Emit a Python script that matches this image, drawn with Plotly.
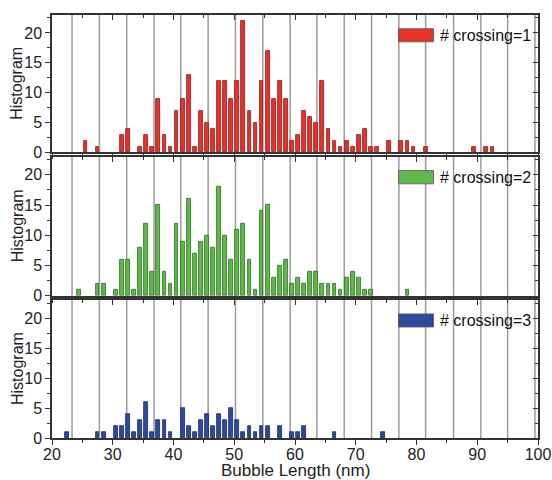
import plotly.graph_objects as go

# ---- data ----
x1 = [25.5, 27.5, 31.5, 32.5, 34.5, 35.5, 36.5, 37.5, 38.5, 39.5, 40.5, 41.5, 42.5, 43.5,
      44.5, 45.5, 46.5, 47.5, 48.5, 49.5, 50.5, 51.5, 52.5, 53.5, 54.5, 55.5, 56.5, 57.5,
      58.5, 59.5, 60.5, 61.5, 62.5, 63.5, 64.5, 65.5, 66.5, 67.5, 68.5, 69.5, 70.5, 71.5,
      72.5, 73.5, 75.5, 77.5, 78.5, 79.5, 81.5, 89.5, 91.5, 92.5]
y1 = [2, 1, 3, 4, 1, 3, 1, 9, 3, 1, 7, 9, 13, 1,
      7, 5, 4, 12, 12, 9, 12, 22, 7, 5, 12, 17, 9, 12,
      9, 2, 3, 7, 6, 5, 12, 4, 2, 1, 2, 1, 3, 4,
      1, 1, 2, 2, 2, 1, 1, 1, 1, 1]

x2 = [24.5, 27.5, 28.5, 30.5, 31.5, 32.5, 33.5, 34.5, 35.5, 36.5, 37.5, 38.5, 39.5, 40.5,
      41.5, 42.5, 43.5, 44.5, 45.5, 46.5, 47.5, 48.5, 49.5, 50.5, 51.5, 52.5, 53.5, 54.5,
      55.5, 56.5, 57.5, 58.5, 59.5, 60.5, 61.5, 62.5, 63.5, 64.5, 65.5, 66.5, 67.5, 68.5,
      69.5, 70.5, 71.5, 72.5, 78.5]
y2 = [1, 2, 2, 1, 6, 6, 1, 8, 12, 4, 15, 4, 2, 12,
      9, 16, 7, 9, 10, 8, 18, 10, 6, 11, 12, 6, 1, 14,
      15, 3, 5, 6, 2, 3, 2, 4, 4, 2, 2, 2, 1, 3,
      4, 3, 1, 1, 1]

x3 = [22.5, 27.5, 28.5, 30.5, 31.5, 32.5, 33.5, 34.5, 35.5, 36.5, 37.5, 38.5, 39.5, 41.5,
      42.5, 43.5, 44.5, 45.5, 46.5, 47.5, 48.5, 49.5, 50.5, 51.5, 52.5, 53.5, 54.5, 55.5,
      57.5, 59.5, 60.5, 61.5, 66.5, 74.5]
y3 = [1, 1, 1, 2, 2, 4, 1, 3, 6, 1, 3, 3, 1, 5,
      2, 1, 3, 4, 2, 4, 3, 5, 3, 1, 2, 1, 2, 2,
      2, 1, 1, 2, 1, 1]

gray_lines = [23.3, 27.8, 32.3, 36.8, 41.2, 45.7, 50.2, 54.7, 59.2, 63.6, 68.1, 72.6,
              77.1, 81.5, 86.1, 90.6, 95.0, 99.5]

labels = ["# crossing=1", "# crossing=2", "# crossing=3"]
fills = ["#e8312b", "#5dba48", "#2d4a9f"]
edges = ["#8c1c16", "#2f6b25", "#17295e"]

x_range = [20, 100]
y_range = [0, 23]
x_title = "Bubble Length (nm)"
y_title = "Histogram"

FONT = "Liberation Sans, Arial, sans-serif"
AX = "#333333"

domains = [[0.675, 1.0], [0.336, 0.665], [0.0, 0.326]]
series = [(x1, y1), (x2, y2), (x3, y3)]

fig = go.Figure()
layout = dict(
    width=552, height=480,
    margin=dict(l=52, r=14, t=15, b=42, autoexpand=False),
    paper_bgcolor="white", plot_bgcolor="white",
    showlegend=False,
    font=dict(family=FONT, size=14, color="#222222"),
    bargap=0,
)
shapes = []
annotations = []

for i, (xs, ys) in enumerate(series):
    n = i + 1
    sx = "" if n == 1 else str(n)
    fig.add_trace(go.Bar(
        x=xs, y=ys, width=0.62,
        marker=dict(color=fills[i], line=dict(color=edges[i], width=0.8)),
        xaxis="x" + sx, yaxis="y" + sx, name=labels[i],
    ))
    m = n + 3
    fig.add_trace(go.Scatter(x=[], y=[], xaxis="x%d" % m, yaxis="y%d" % m,
                             hoverinfo="skip", showlegend=False))

    layout["xaxis" + sx] = dict(
        domain=[0, 1], range=x_range, anchor="y" + sx, automargin=False,
        showgrid=False, zeroline=False,
        showline=True, linecolor=AX, linewidth=1.5, mirror=True,
        ticks="outside", ticklen=5, tickwidth=1.2, tickcolor=AX, dtick=10, tick0=0,
        minor=dict(dtick=5, ticks="outside", ticklen=3, tickwidth=1, tickcolor=AX),
        showticklabels=(n == 3), ticklabeloverflow="allow", ticklabelstandoff=-4,
        tickfont=dict(family=FONT, size=16, color="#222222"),
    )
    layout["yaxis" + sx] = dict(
        domain=domains[i], range=y_range, anchor="x" + sx, automargin=False,
        showgrid=False, zeroline=False,
        showline=True, linecolor=AX, linewidth=1.5, mirror=True,
        ticks="outside", ticklen=5, tickwidth=1.2, tickcolor=AX, dtick=5, tick0=0,
        minor=dict(dtick=2.5, ticks="outside", ticklen=3, tickwidth=1, tickcolor=AX),
        tickfont=dict(family=FONT, size=16, color="#222222"),
    )
    layout["xaxis%d" % m] = dict(
        range=x_range, overlaying="x" + sx, anchor="y" + sx, side="top",
        automargin=False,
        showgrid=False, zeroline=False, showline=False, showticklabels=False,
        ticks="inside", ticklen=5, tickwidth=1.2, tickcolor=AX, dtick=10, tick0=0,
        minor=dict(dtick=5, ticks="inside", ticklen=3, tickwidth=1, tickcolor=AX),
    )
    layout["yaxis%d" % m] = dict(
        range=y_range, overlaying="y" + sx, anchor="x" + sx, side="right",
        automargin=False,
        showgrid=False, zeroline=False, showline=False, showticklabels=False,
        ticks="inside", ticklen=5, tickwidth=1.2, tickcolor=AX, dtick=5, tick0=0,
        minor=dict(dtick=2.5, ticks="inside", ticklen=3, tickwidth=1, tickcolor=AX),
    )

    for gx in gray_lines:
        shapes.append(dict(type="line", xref="x" + sx, yref="y%s domain" % sx,
                           x0=gx, x1=gx, y0=0, y1=1, layer="below",
                           line=dict(color="#9c9c9c", width=1.5)))
    shapes.append(dict(type="rect", xref="x%s domain" % sx, yref="y%s domain" % sx,
                       x0=0.713, x1=0.785, y0=0.805, y1=0.90, layer="above",
                       fillcolor=fills[i], line=dict(color="#555555", width=0.8)))
    annotations.append(dict(xref="x%s domain" % sx, yref="y%s domain" % sx,
                            x=0.795, y=0.853, xanchor="left", yanchor="middle",
                            text=labels[i], showarrow=False,
                            font=dict(family=FONT, size=16, color="#111111")))
    annotations.append(dict(xref="paper", yref="paper", x=0, xshift=-35,
                            y=sum(domains[i]) / 2, xanchor="center", yanchor="middle",
                            textangle=-90, text=y_title, showarrow=False,
                            font=dict(family=FONT, size=16, color="#222222")))

annotations.append(dict(xref="paper", yref="paper", x=0.5, y=0, yshift=-32,
                        xanchor="center", yanchor="middle", text=x_title,
                        showarrow=False,
                        font=dict(family=FONT, size=17, color="#222222")))

layout["shapes"] = shapes
layout["annotations"] = annotations
fig.update_layout(**layout)
fig.write_html(
    "out.html",
    config={"displayModeBar": False},
    post_script=("document.body.style.margin='0';"
                 "document.body.style.overflow='hidden';"
                 "document.documentElement.style.overflow='hidden';"),
)
